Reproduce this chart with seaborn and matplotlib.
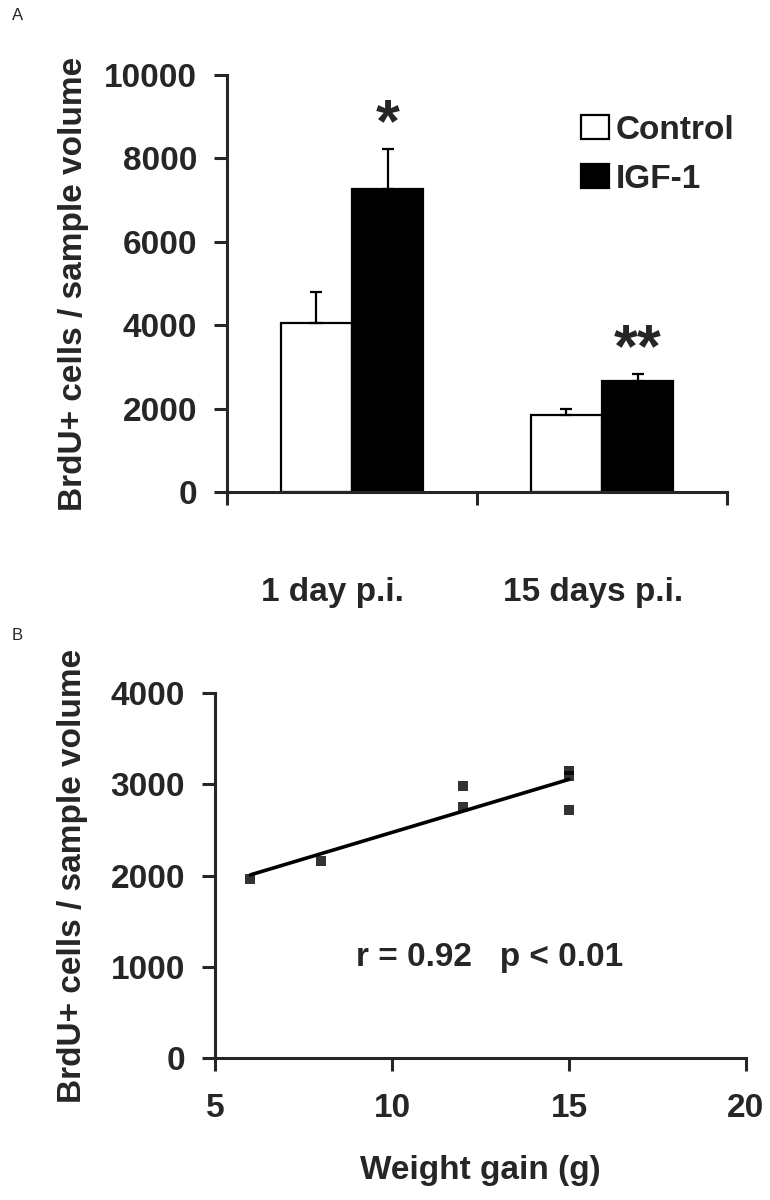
import matplotlib
matplotlib.use("Agg")
import matplotlib.pyplot as plt
from matplotlib.transforms import ScaledTranslation
import seaborn as sns
import pandas as pd
import numpy as np

# panel A data
days = ["1 day p.i.", "15 days p.i."]
groups = ["Control", "IGF-1"]
control_mean = [4050, 1850]
control_err = [745, 140]
igf_mean = [7260, 2650]
igf_err = [965, 180]
stars = ["*", "**"]

# panel B data
weight_gain = [6, 8, 12, 12, 15, 15, 15]
brdu_cells = [1960, 2160, 2985, 2750, 3150, 3090, 2720]
stat_text = "r = 0.92   p < 0.01"

sns.set_style("ticks")
plt.rcParams["font.family"] = ["Liberation Sans", "DejaVu Sans"]
plt.rcParams["font.weight"] = "bold"
plt.rcParams["axes.labelweight"] = "bold"

FS = 24
LW = 2.2
TL = 9.5

fig = plt.figure(figsize=(7.7, 12), dpi=100)
axA = fig.add_axes([227 / 770, 1 - 492 / 1200, 500 / 770, 417 / 1200])
axB = fig.add_axes([215 / 770, 1 - 1058 / 1200, 531 / 770, 365 / 1200])

# ---- A ----
df = pd.DataFrame({
    "day": days * 2,
    "group": [groups[0]] * 2 + [groups[1]] * 2,
    "mean": control_mean + igf_mean,
})
sns.barplot(data=df, x="day", y="mean", hue="group", hue_order=groups,
            palette={"Control": "white", "IGF-1": "black"},
            edgecolor="black", linewidth=1.6, width=0.57, errorbar=None,
            ax=axA)

errs = [control_err, igf_err]
means = [control_mean, igf_mean]
for cont, m, e in zip(axA.containers, means, errs):
    xs = [p.get_x() + p.get_width() / 2 for p in cont.patches]
    axA.errorbar(xs, m, yerr=[np.zeros(len(e)), e], fmt="none",
                 ecolor="black", elinewidth=1.6, capsize=4.5, capthick=1.6)

# stars above IGF-1 bars
igf_x = [p.get_x() + p.get_width() / 2 for p in axA.containers[1].patches]
for xi, m, e, s in zip(igf_x, igf_mean, igf_err, stars):
    axA.annotate(s, (xi, m + e), xytext=(0, 8), textcoords="offset pixels",
                 ha="center", va="baseline", fontsize=44, fontweight="bold")

axA.set_ylim(0, 10000)
axA.set_xlim(-0.5, 1.5)
axA.set_yticks(range(0, 10001, 2000))
axA.set_xticks([0, 1])
axA.set_xticklabels(days)
axA.set_xticks([-0.5, 0.5, 1.5], minor=True)
axA.tick_params(axis="x", which="major", length=0, pad=61, labelsize=FS)
axA.tick_params(axis="x", which="minor", length=TL, width=LW, direction="out")
axA.tick_params(axis="y", length=TL, width=LW, pad=12, labelsize=FS)
for lab, dx in zip(axA.get_xticklabels(), [-20, -9]):
    lab.set_transform(lab.get_transform() +
                      ScaledTranslation(dx / 100, 0, fig.dpi_scale_trans))
axA.set_xlabel("")
axA.set_ylabel("BrdU+ cells / sample volume", fontsize=FS, labelpad=11)
for sp in ["left", "bottom"]:
    axA.spines[sp].set_linewidth(LW)
sns.despine(ax=axA)
axA.legend(loc="upper left", bbox_to_anchor=(0.708, 0.905), frameon=False,
           fontsize=FS, handlelength=0.85, handleheight=0.72,
           handletextpad=0.2, labelspacing=0.55, borderpad=0,
           borderaxespad=0)
for h in axA.get_legend().legend_handles:
    h.set_edgecolor("black")
    h.set_linewidth(1.6)

# ---- B ----
sns.regplot(x=weight_gain, y=brdu_cells, ci=None, marker="s", color="black",
            scatter_kws={"s": 50, "edgecolor": "none"},
            line_kws={"linewidth": 2.6}, truncate=True, ax=axB)
axB.set_xlim(5, 20)
axB.set_ylim(0, 4000)
axB.set_xticks([5, 10, 15, 20])
axB.set_yticks(range(0, 4001, 1000))
axB.tick_params(axis="both", length=TL, width=LW, labelsize=FS)
axB.tick_params(axis="y", pad=12)
axB.tick_params(axis="x", pad=16)
axB.set_xlabel("Weight gain (g)", fontsize=FS, labelpad=22)
axB.set_ylabel("BrdU+ cells / sample volume", fontsize=FS, labelpad=16)
for sp in ["left", "bottom"]:
    axB.spines[sp].set_linewidth(LW)
sns.despine(ax=axB)
axB.text(12.77, 1096, stat_text, ha="center", va="center", fontsize=FS,
         fontweight="bold")

fig.text(12 / 770, 1 - 16 / 1200, "A", fontsize=12, fontweight="normal",
         va="center")
fig.text(12 / 770, 1 - 635 / 1200, "B", fontsize=12, fontweight="normal",
         va="center")

fig.savefig("out.png", dpi=100)
